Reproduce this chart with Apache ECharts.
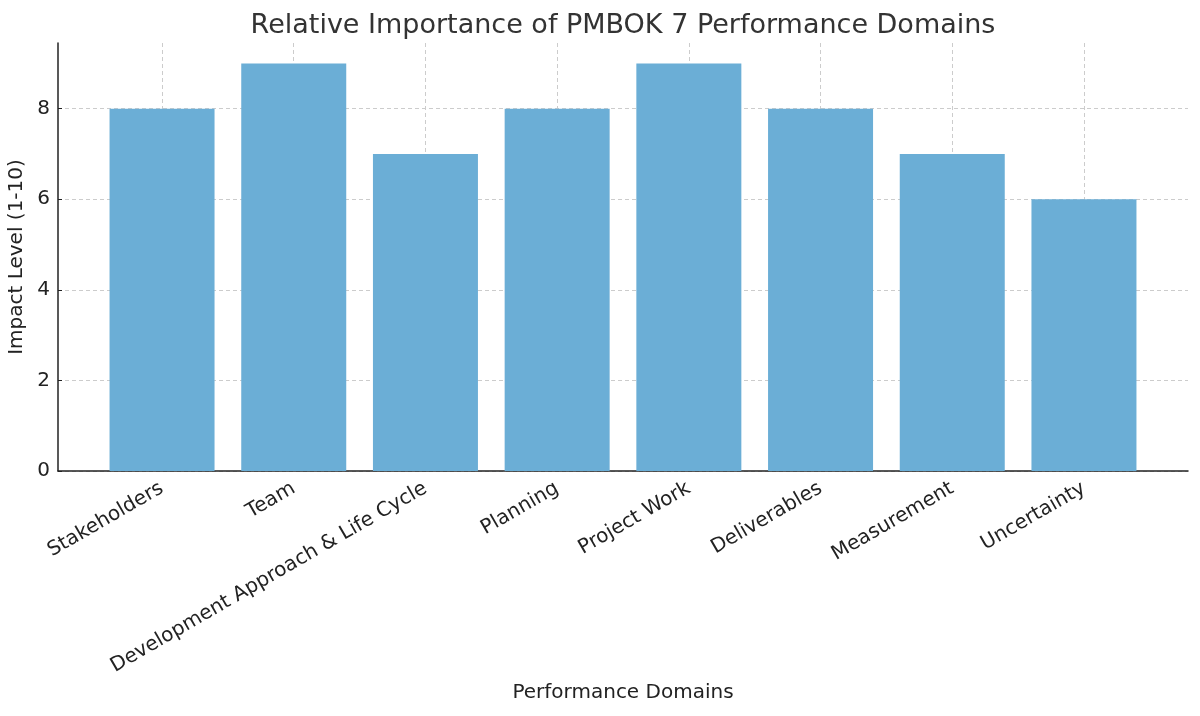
<!DOCTYPE html>
<html>
<head>
<meta charset="utf-8">
<script src="https://cdn.jsdelivr.net/npm/echarts@6/dist/echarts.min.js"></script>
<style>
  html, body { margin: 0; padding: 0; background: #fff; }
  #chart { width: 1200px; height: 716px; }
</style>
</head>
<body>
<div id="chart"></div>
<script>
const domains = [
  'Stakeholders',
  'Team',
  'Development Approach & Life Cycle',
  'Planning',
  'Project Work',
  'Deliverables',
  'Measurement',
  'Uncertainty'
];
const impact = [8, 9, 7, 8, 9, 8, 7, 6];
const yTicks = [0, 2, 4, 6, 8];

const positions = domains.map((d, i) => i);
const barData = impact.map((v, i) => [i, v]);

const chart = echarts.init(document.getElementById('chart'));

const font = 'DejaVu Sans';

chart.setOption({
  animation: false,
  backgroundColor: '#ffffff',
  textStyle: { fontFamily: font },
  title: {
    text: 'Relative Importance of PMBOK 7 Performance Domains',
    left: 618,
    textAlign: 'center',
    top: 7,
    textStyle: { fontFamily: font, fontSize: 27, fontWeight: 'normal', color: '#333333' }
  },
  grid: {
    left: 58,
    right: 12,
    top: 43,
    bottom: 245,
    containLabel: false,
    outerBoundsMode: 'none'
  },
  xAxis: {
    type: 'value',
    min: -0.79,
    max: 7.79,
    name: 'Performance Domains',
    nameLocation: 'middle',
    nameGap: 212,
    nameTextStyle: { fontFamily: font, fontSize: 20, color: '#222222' },
    axisLine: { show: true, onZero: false, lineStyle: { color: '#222222', width: 1.5 } },
    axisTick: {
      show: true,
      inside: true,
      length: 4,
      customValues: positions,
      lineStyle: { color: '#222222' }
    },
    axisLabel: {
      customValues: positions,
      rotate: 30,
      margin: 16,
      fontFamily: font,
      fontSize: 20,
      color: '#222222',
      formatter: (v) => domains[Math.round(v)] || ''
    },
    splitLine: {
      show: true,
      lineStyle: { color: '#cccccc', type: [4, 3], width: 1 }
    }
  },
  yAxis: {
    type: 'value',
    min: 0,
    max: 9.45,
    name: 'Impact Level (1-10)',
    nameLocation: 'middle',
    nameGap: 27,
    nameTextStyle: { fontFamily: font, fontSize: 20, color: '#222222' },
    axisLine: { show: true, onZero: false, lineStyle: { color: '#222222', width: 1.5 } },
    axisTick: {
      show: true,
      inside: true,
      length: 4,
      customValues: yTicks,
      lineStyle: { color: '#222222' }
    },
    axisLabel: {
      customValues: yTicks,
      margin: 8,
      fontFamily: font,
      fontSize: 20,
      color: '#222222'
    },
    splitLine: {
      show: true,
      lineStyle: { color: '#cccccc', type: [4, 3], width: 1 }
    }
  },
  series: [
    {
      type: 'bar',
      data: barData,
      barWidth: 105,
      itemStyle: { color: '#6baed6' },
      z: 1
    }
  ]
});
</script>
</body>
</html>
